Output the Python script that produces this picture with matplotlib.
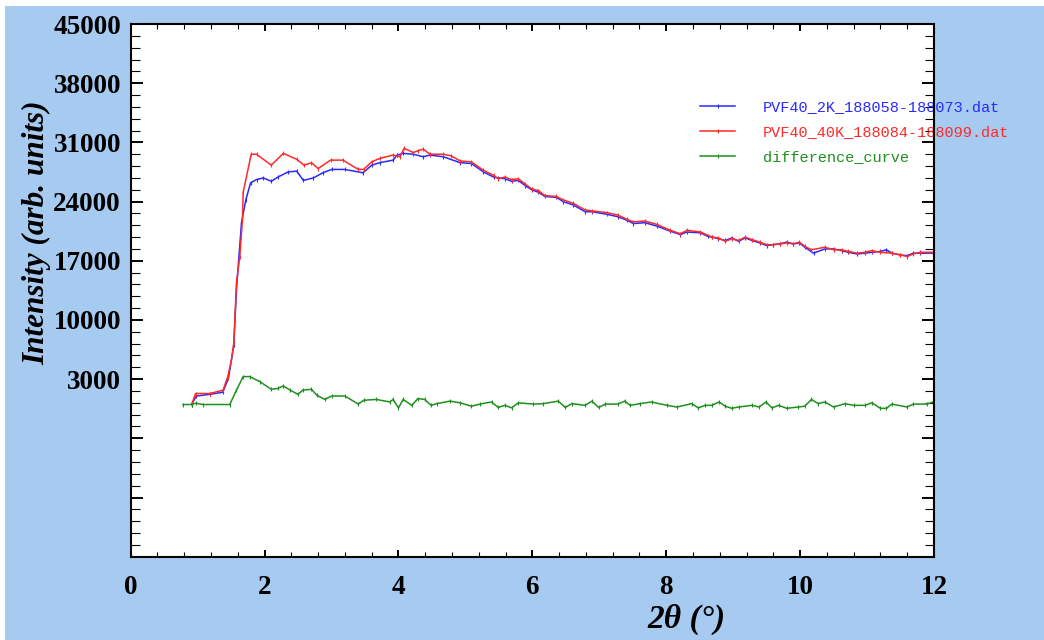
import matplotlib
matplotlib.use("Agg")
import matplotlib.pyplot as plt
from matplotlib.ticker import FixedLocator, MultipleLocator
from matplotlib.patches import Rectangle
import numpy as np

# ---------------- data ----------------
red_x = [0.91, 0.97, 1.18, 1.38, 1.45, 1.505, 1.54, 1.58, 1.63, 1.67, 1.68, 1.80, 1.88, 2.10, 2.28, 2.48,
         2.59, 2.70, 2.80, 2.985, 3.17, 3.40, 3.48, 3.60, 3.72, 3.92, 4.02, 4.085, 4.22, 4.29, 4.37, 4.47,
         4.67, 4.79, 4.92, 5.09, 5.27, 5.42, 5.49, 5.59, 5.69, 5.79, 5.89, 5.99, 6.09, 6.19, 6.36, 6.46,
         6.61, 6.79, 6.89, 7.11, 7.28, 7.41, 7.51, 7.68, 7.86, 8.06, 8.21, 8.31, 8.51, 8.68, 8.78, 8.88,
         8.98, 9.08, 9.18, 9.28, 9.40, 9.50, 9.60, 9.70, 9.80, 9.90, 9.99, 10.07, 10.17, 10.37, 10.50,
         10.62, 10.72, 10.85, 10.97, 11.07, 11.20, 11.37, 11.49, 11.60, 11.69, 11.79, 11.99]
red_y = [0, 1300, 1300, 1700, 3300, 5250, 7270, 14400, 17500, 21900, 25100, 29600, 29600, 28300, 29700,
         29000, 28300, 28600, 27900, 28900, 28900, 27800, 27800, 28700, 29100, 29500, 29300, 30300, 29800,
         30000, 30200, 29600, 29600, 29400, 28800, 28700, 27700, 27100, 26700, 26900, 26600, 26700, 26100,
         25500, 25300, 24700, 24600, 24200, 23800, 23000, 22900, 22700, 22400, 21900, 21600, 21700, 21300,
         20600, 20200, 20600, 20400, 19800, 19700, 19300, 19600, 19400, 19800, 19500, 19200, 18900, 18900,
         19000, 19100, 19000, 19200, 18700, 18300, 18600, 18300, 18300, 18100, 17900, 18000, 18200, 18000,
         17900, 17700, 17500, 17800, 18000, 18000]

blue_x = [0.91, 0.98, 1.18, 1.375, 1.46, 1.54, 1.58, 1.655, 1.72, 1.79, 1.88, 1.98, 2.10, 2.20, 2.35, 2.48,
          2.58, 2.73, 2.87, 3.00, 3.20, 3.47, 3.60, 3.72, 3.92, 3.98, 4.07, 4.22, 4.37, 4.47, 4.67, 4.92,
          5.09, 5.27, 5.42, 5.49, 5.59, 5.69, 5.79, 5.89, 5.99, 6.09, 6.19, 6.36, 6.46, 6.61, 6.79, 6.89,
          7.11, 7.28, 7.41, 7.51, 7.68, 7.86, 8.06, 8.21, 8.31, 8.51, 8.62, 8.68, 8.78, 8.88, 8.98, 9.08,
          9.18, 9.28, 9.40, 9.50, 9.60, 9.70, 9.80, 9.90, 9.99, 10.07, 10.20, 10.37, 10.50, 10.62, 10.72,
          10.85, 10.97, 11.07, 11.20, 11.29, 11.37, 11.49, 11.60, 11.69, 11.79, 11.99]
blue_y = [0, 1000, 1200, 1450, 3100, 7000, 13600, 21500, 24200, 26200, 26600, 26800, 26400, 26900, 27500,
          27600, 26500, 26800, 27400, 27800, 27800, 27400, 28300, 28600, 28900, 29500, 29700, 29600, 29300,
          29500, 29300, 28600, 28500, 27500, 26900, 26800, 26700, 26400, 26500, 25900, 25400, 25100, 24600,
          24500, 24000, 23600, 22800, 22800, 22500, 22200, 21800, 21400, 21500, 21100, 20500, 20100, 20400,
          20300, 19900, 19800, 19600, 19400, 19700, 19300, 19700, 19400, 19100, 18800, 18900, 19000, 19200,
          19000, 19100, 18600, 17900, 18400, 18400, 18200, 18000, 17800, 17900, 18000, 18100, 18300, 17900,
          17700, 17600, 17900, 17900, 17900]

green_x = [0.78, 0.91, 0.97, 1.08, 1.48, 1.58, 1.68, 1.78, 1.93, 2.10, 2.20, 2.28, 2.38, 2.50, 2.57, 2.70,
           2.78, 2.90, 3.00, 3.20, 3.40, 3.48, 3.67, 3.87, 3.92, 4.00, 4.07, 4.20, 4.29, 4.39, 4.49, 4.57,
           4.77, 4.92, 5.09, 5.22, 5.39, 5.49, 5.59, 5.69, 5.79, 6.01, 6.16, 6.39, 6.49, 6.59, 6.79, 6.89,
           6.99, 7.09, 7.28, 7.38, 7.46, 7.61, 7.78, 8.01, 8.16, 8.38, 8.48, 8.58, 8.68, 8.79, 8.88, 8.98,
           9.08, 9.28, 9.39, 9.49, 9.58, 9.68, 9.80, 9.97, 10.07, 10.17, 10.27, 10.37, 10.50, 10.67, 10.80,
           10.97, 11.07, 11.20, 11.29, 11.37, 11.60, 11.69, 11.89, 11.99]
green_y = [0, 0, 150, 0, 0, 1700, 3300, 3300, 2700, 1800, 1900, 2200, 1700, 1200, 1700, 1800, 1100, 600,
           1000, 1000, 50, 500, 600, 300, 600, -400, 600, -100, 700, 600, -100, 100, 400, 200, -200, 50, 300,
           -350, -100, -400, 200, 50, 100, 400, -350, 100, -100, 400, -350, 50, 50, 400, -100, 100, 300, -100,
           -300, 100, -400, -100, -100, 300, -200, -450, -300, -100, -300, 300, -400, -100, -450, -300, -200,
           600, 100, 300, -300, 100, -100, -100, 200, -450, -450, 50, -300, 50, 50, 300]

series_labels = ["PVF40_2K_188058-188073.dat", "PVF40_40K_188084-188099.dat", "difference_curve"]
series_colors = ["#2a2aff", "#ff2a2a", "#1f8f1f"]

y_major_ticks = [-18000, -11000, -4000, 3000, 10000, 17000, 24000, 31000, 38000, 45000]
y_tick_labels = ["", "", "", "3000", "10000", "17000", "24000", "31000", "38000", "45000"]
x_major_ticks = [0, 2, 4, 6, 8, 10, 12]
x_tick_labels = ["0", "2", "4", "6", "8", "10", "12"]

# ---------------- figure ----------------
W, H = 1044, 640
fig = plt.figure(figsize=(W / 100, H / 100), dpi=100, facecolor="white")
fig.patches.append(Rectangle((5 / W, 0), 1 - 5 / W, 1 - 6 / H, transform=fig.transFigure,
                             facecolor="#a6caf0", edgecolor="none", zorder=-10))

ax = fig.add_axes([130.7 / W, 1 - 556.7 / H, (934 - 130.7) / W, (556.7 - 24) / H])
ax.set_facecolor("white")

l1, = ax.plot(blue_x, blue_y, color=series_colors[0], lw=1.1, marker="|", ms=3, mew=0.8)
l2, = ax.plot(red_x, red_y, color=series_colors[1], lw=1.1, marker="|", ms=3, mew=0.8)
l3, = ax.plot(green_x, green_y, color=series_colors[2], lw=1.1, marker="|", ms=3, mew=0.8)

ax.set_xlim(0, 12)
ax.set_ylim(-18000, 45000)

ax.yaxis.set_major_locator(FixedLocator(y_major_ticks))
ax.yaxis.set_minor_locator(FixedLocator(np.arange(-18000, 45001, 1400)))
ax.set_yticklabels(y_tick_labels)
ax.xaxis.set_major_locator(FixedLocator(x_major_ticks))
ax.xaxis.set_minor_locator(MultipleLocator(0.4))
ax.set_xticklabels(x_tick_labels)

for lab in ax.get_xticklabels() + ax.get_yticklabels():
    lab.set_fontfamily("Liberation Serif")
    lab.set_fontweight("bold")
    lab.set_fontsize(19.5)

ax.tick_params(axis="y", which="major", direction="in", length=8.6, width=1.4, left=True, right=True, pad=7)
ax.tick_params(axis="y", which="minor", direction="in", length=6.3, width=0.8, left=True, right=True)
ax.tick_params(axis="x", which="major", direction="in", length=5.2, width=1.4, bottom=True, top=True, pad=13)
ax.tick_params(axis="x", which="minor", direction="in", length=3.3, width=0.8, bottom=True, top=True)
ax.tick_params(colors="black")

for sp in ax.spines.values():
    sp.set_linewidth(1.5)
    sp.set_color("black")

fig.text(37 / W, 1 - 233 / H, "Intensity (arb. units)", rotation=90, ha="center", va="center",
         family="Liberation Serif", style="italic", weight="bold", size=22.5)
fig.text(686 / W, 1 - 619 / H, "2\u03b8 (\u00b0)", ha="center", va="center",
         family="Liberation Serif", style="italic", weight="bold", size=24)

leg = ax.legend([l1, l2, l3], series_labels, loc="upper left",
                bbox_to_anchor=(700 / W, 1 - 100 / H), bbox_transform=fig.transFigure,
                frameon=False, borderpad=0, borderaxespad=0, handlelength=2.3, handletextpad=1.8,
                labelspacing=0.72, numpoints=1, prop=dict(family="Liberation Mono", size=11))
for txt, c in zip(leg.get_texts(), series_colors):
    txt.set_color(c)
leg.set_zorder(2.4)

fig.savefig("out.png", dpi=100, facecolor=fig.get_facecolor())
